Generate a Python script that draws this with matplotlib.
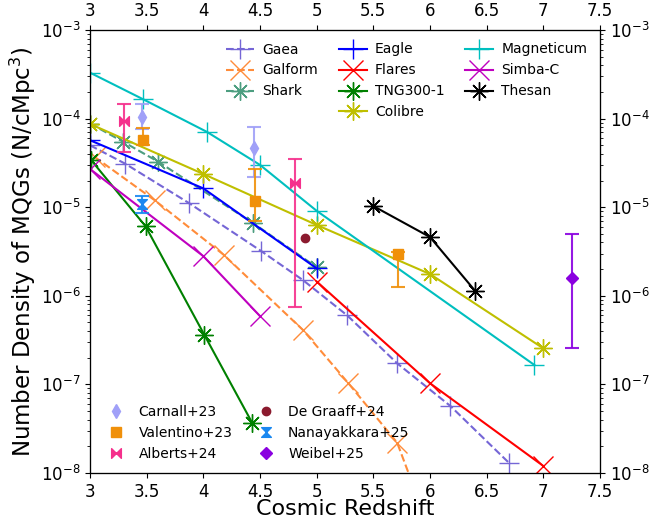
import matplotlib
matplotlib.use("Agg")
import matplotlib.pyplot as plt
import numpy as np
from matplotlib.lines import Line2D
from matplotlib.path import Path

# ---------------- simulation data ----------------
gaea_z = [3.0, 3.31, 3.87, 4.51, 4.88, 5.27, 5.71, 6.18, 6.70]
gaea_n = [5.0e-5, 3.1e-5, 1.12e-5, 3.2e-6, 1.5e-6, 6.0e-7, 1.73e-7, 5.7e-8, 1.29e-8]

galform_z = [3.04, 3.57, 4.18, 4.88, 5.28, 5.71, 6.18]
galform_n = [3.7e-5, 1.2e-5, 2.9e-6, 4.1e-7, 1.03e-7, 2.2e-8, 5.5e-10]

shark_z = [3.0, 3.29, 3.6, 4.44, 5.0]
shark_n = [8.8e-5, 5.5e-5, 3.27e-5, 6.6e-6, 2.1e-6]

eagle_z = [3.0, 4.0, 5.0]
eagle_n = [5.7e-5, 1.63e-5, 2.04e-6]

flares_z = [5.0, 6.0, 7.0]
flares_n = [1.45e-6, 1.03e-7, 1.2e-8]

tng_z = [3.01, 3.49, 4.01, 4.43]
tng_n = [3.4e-5, 6.1e-6, 3.6e-7, 3.7e-8]

colibre_z = [3.0, 4.0, 5.0, 6.0, 7.0]
colibre_n = [8.7e-5, 2.37e-5, 6.3e-6, 1.76e-6, 2.55e-7]

magneticum_z = [3.0, 3.47, 4.03, 4.5, 5.0, 6.92]
magneticum_n = [3.3e-4, 1.65e-4, 7.1e-5, 3.0e-5, 9.1e-6, 1.66e-7]

simba_z = [3.0, 4.0, 4.5]
simba_n = [2.7e-5, 2.8e-6, 5.9e-7]

thesan_z = [5.5, 6.0, 6.4]
thesan_n = [1.03e-5, 4.6e-6, 1.13e-6]

# ---------------- observational data ----------------
carnall_z = [3.46, 4.45]
carnall_n = [1.05e-4, 4.6e-5]
carnall_hi = [1.47e-4, 8.1e-5]
carnall_lo = [7.6e-5, 2.2e-5]

valentino_z = [3.47, 4.46, 5.72]
valentino_n = [5.7e-5, 1.18e-5, 2.95e-6]
valentino_hi = [7.9e-5, 2.7e-5, 3.1e-6]
valentino_lo = [5.0e-5, 7.0e-6, 1.27e-6]

alberts_z = [3.30, 4.81]
alberts_n = [9.4e-5, 1.86e-5]
alberts_hi = [1.47e-4, 3.5e-5]
alberts_lo = [4.2e-5, 7.4e-7]

degraaff_z = [4.90]
degraaff_n = [4.5e-6]

nanayakkara_z = [3.46]
nanayakkara_n = [1.1e-5]
nanayakkara_hi = [1.35e-5]
nanayakkara_lo = [8.5e-6]

weibel_z = [7.25]
weibel_n = [1.6e-6]
weibel_hi = [5.0e-6]
weibel_lo = [2.55e-7]

xticks = [3, 3.5, 4, 4.5, 5, 5.5, 6, 6.5, 7, 7.5]
xticklabels = ["3", "3.5", "4", "4.5", "5", "5.5", "6", "6.5", "7", "7.5"]

# ---------------- markers ----------------
ast = (8, 2, 0)
bowtie = Path([(-1, 1), (1, -1), (1, 1), (-1, -1), (-1, 1)],
              [Path.MOVETO, Path.LINETO, Path.LINETO, Path.LINETO, Path.CLOSEPOLY])
hourglass = Path([(-1, 1), (1, 1), (-1, -1), (1, -1), (-1, 1)],
                 [Path.MOVETO, Path.LINETO, Path.LINETO, Path.LINETO, Path.CLOSEPOLY])

fig = plt.figure(figsize=(6.65, 5.22), dpi=100)
ax = fig.add_axes([90/665, 1-473/522, 510/665, 443/522])

c_gaea = "#7566d6"
c_galform = "#ff8c3a"
c_shark = "#4d9e80"

sims = [
    ("Gaea", gaea_z, gaea_n, c_gaea, "--", "+"),
    ("Galform", galform_z, galform_n, c_galform, "--", "x"),
    ("Shark", shark_z, shark_n, c_shark, "--", ast),
    ("Eagle", eagle_z, eagle_n, "blue", "-", "+"),
    ("Flares", flares_z, flares_n, "red", "-", "x"),
    ("TNG300-1", tng_z, tng_n, "green", "-", ast),
    ("Colibre", colibre_z, colibre_n, "#bfbf00", "-", ast),
    ("Magneticum", magneticum_z, magneticum_n, "#00bfbf", "-", "+"),
    ("Simba-C", simba_z, simba_n, "#bf00bf", "-", "x"),
    ("Thesan", thesan_z, thesan_n, "black", "-", ast),
]
handles = {}
for name, z, n, col, ls, mk in sims:
    h, = ax.plot(z, n, color=col, ls=ls, marker=mk, ms=15 if mk in ("+", "x") else 13,
                 mew=1.0, lw=1.5, label=name)
    handles[name] = h

# observations
obs = [
    ("Carnall+23", carnall_z, carnall_n, carnall_hi, carnall_lo, "#a0a0f8", "d", 7),
    ("Valentino+23", valentino_z, valentino_n, valentino_hi, valentino_lo, "#f0900a", "s", 7),
    ("Alberts+24", alberts_z, alberts_n, alberts_hi, alberts_lo, "#f5308c", bowtie, 7),
    ("Nanayakkara+25", nanayakkara_z, nanayakkara_n, nanayakkara_hi, nanayakkara_lo, "#1a88f0", hourglass, 7),
    ("Weibel+25", weibel_z, weibel_n, weibel_hi, weibel_lo, "#8a00e0", "D", 6),
]
obs_handles = {}
for name, z, n, hi, lo, col, mk, ms in obs:
    n_a = np.array(n); hi_a = np.array(hi); lo_a = np.array(lo)
    ax.errorbar(z, n, yerr=[n_a - lo_a, hi_a - n_a], fmt="none", ecolor=col,
                elinewidth=1.5, capsize=5, capthick=1.5, alpha=0.9)
    ax.plot(z, n, ls="none", marker=mk, color=col, ms=ms)
    obs_handles[name] = Line2D([], [], ls="none", marker=mk, color=col, ms=ms)
ax.plot(degraaff_z, degraaff_n, ls="none", marker="o", color="#8b1a2e", ms=6)
obs_handles["De Graaff+24"] = Line2D([], [], ls="none", marker="o", color="#8b1a2e", ms=6)

ax.set_yscale("log")
ax.set_xlim(3, 7.5)
ax.set_ylim(1e-8, 1e-3)
ax.set_xticks(xticks)
ax.set_xticklabels(xticklabels)
ax.tick_params(labelsize=12)
ax.set_xlabel("Cosmic Redshift", fontsize=16, labelpad=-1)
ax.set_ylabel("Number Density of MQGs (N/cMpc$^3$)", fontsize=16.5, labelpad=2)

ax2 = ax.twinx()
ax2.set_yscale("log")
ax2.set_ylim(1e-8, 1e-3)
ax2.tick_params(labelsize=12)
ax3 = ax.twiny()
ax3.set_xlim(3, 7.5)
ax3.set_xticks(xticks)
ax3.set_xticklabels(xticklabels)
ax3.tick_params(labelsize=12)

blank = Line2D([], [], ls="none", marker=None)
sim_order = ["Gaea", "Galform", "Shark", None, "Eagle", "Flares", "TNG300-1", "Colibre",
             "Magneticum", "Simba-C", "Thesan"]
hl = [handles[k] if k else blank for k in sim_order]
ll = [k if k else "" for k in sim_order]
leg1 = ax3.legend(hl, ll, loc="upper right", ncol=3, frameon=False, fontsize=10,
                  columnspacing=1.5, handletextpad=0.6)

obs_order = ["Carnall+23", "Valentino+23", "Alberts+24", "De Graaff+24", "Nanayakkara+25", "Weibel+25"]
leg2 = ax3.legend([obs_handles[k] for k in obs_order], obs_order, loc="lower left", ncol=2,
                  frameon=False, fontsize=10, columnspacing=1.4, handletextpad=0.6)
ax3.add_artist(leg1)

fig.savefig("out.png", dpi=100)
